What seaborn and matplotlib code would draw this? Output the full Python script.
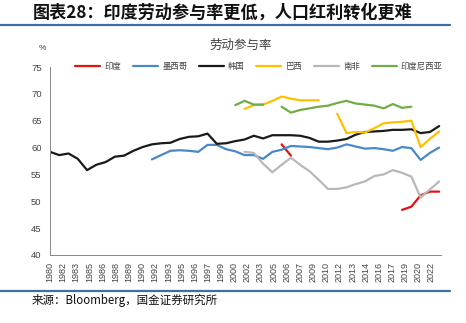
import numpy as np
import pandas as pd
import matplotlib
matplotlib.use("Agg")
import matplotlib.pyplot as plt
import seaborn as sns
from matplotlib.lines import Line2D

# ---------------- data ----------------
countries = ["印度", "墨西哥", "韩国", "巴西", "南非", "印度尼西亚"]
colors = ["#E3120B", "#4A88C7", "#1A1A1A", "#FFC000", "#B8B8B8", "#70AD47"]

korea_years = list(range(1980, 2023))
korea = [59.2, 58.6, 58.9, 57.9, 55.8, 56.8, 57.3, 58.3, 58.5, 59.4,
         60.1, 60.6, 60.8, 60.9, 61.6, 62.0, 62.1, 62.6, 60.7, 60.8,
         61.2, 61.5, 62.2, 61.7, 62.3, 62.3, 62.3, 62.2, 61.8, 61.1,
         61.1, 61.3, 61.6, 62.4, 62.9, 63.0, 63.1, 63.3, 63.3, 63.4,
         62.7, 62.9, 64.0]

mexico_years = list(range(1991, 2023))
mexico = [57.8, 58.6, 59.4, 59.5, 59.4, 59.2, 60.5, 60.5, 59.7, 59.3,
          58.6, 58.6, 57.9, 59.2, 59.6, 60.3, 60.2, 60.1, 59.9, 59.7,
          60.0, 60.6, 60.2, 59.8, 59.9, 59.7, 59.4, 60.1, 59.9, 57.7,
          59.0, 60.0]

brazil1_years = list(range(2001, 2010))
brazil1 = [67.2, 67.9, 68.0, 68.7, 69.5, 69.1, 68.8, 68.8, 68.8]
brazil2_years = list(range(2011, 2023))
brazil2 = [66.3, 62.7, 62.9, 62.8, 63.6, 64.5, 64.7, 64.8, 65.0, 60.1, 61.6, 63.0]

safrica_years = list(range(2001, 2023))
safrica = [59.2, 59.0, 57.0, 55.4, 56.8, 58.1, 56.8, 55.6, 54.0, 52.3,
           52.3, 52.6, 53.2, 53.7, 54.7, 55.0, 55.8, 55.3, 54.6, 50.7,
           52.2, 53.7]

india1_years = [2005, 2006]
india1 = [60.6, 58.5]
india2_years = list(range(2018, 2023))
india2 = [48.4, 49.0, 51.1, 51.8, 51.8]

indo1_years = list(range(2000, 2004))
indo1 = [67.9, 68.7, 68.0, 68.0]
indo2_years = list(range(2005, 2020))
indo2 = [67.6, 66.5, 67.0, 67.3, 67.6, 67.8, 68.3, 68.7, 68.2, 68.0,
         67.8, 67.3, 68.1, 67.4, 67.6]

xtick_labels = ["1980", "1982", "1983", "1985", "1986", "1988", "1989", "1990",
                "1992", "1993", "1995", "1996", "1997", "1999", "2000", "2002",
                "2003", "2005", "2006", "2007", "2009", "2010", "2012", "2013",
                "2014", "2016", "2017", "2019", "2020", "2022"]
yticks = [40, 45, 50, 55, 60, 65, 70, 75]

# ---------------- long table ----------------
segments = [
    ("印度", "in1", india1_years, india1),
    ("印度", "in2", india2_years, india2),
    ("墨西哥", "mx", mexico_years, mexico),
    ("韩国", "kr", korea_years, korea),
    ("巴西", "br1", brazil1_years, brazil1),
    ("巴西", "br2", brazil2_years, brazil2),
    ("南非", "za", safrica_years, safrica),
    ("印度尼西亚", "id1", indo1_years, indo1),
    ("印度尼西亚", "id2", indo2_years, indo2),
]
rows = []
for c, seg, ys, vs in segments:
    for y, v in zip(ys, vs):
        rows.append({"country": c, "seg": seg, "year": y, "value": v})
df = pd.DataFrame(rows)

# ---------------- style ----------------
sns.set_style("white")
plt.rcParams["font.family"] = ["Liberation Sans", "Noto Sans CJK SC", "DejaVu Sans"]

W, H = 466, 323
fig = plt.figure(figsize=(W / 100, H / 100), dpi=100)
ax = fig.add_axes([50 / W, 1 - 255 / H, 391 / W, 188 / H])

palette = dict(zip(countries, colors))
sns.lineplot(data=df, x="year", y="value", hue="country", units="seg",
             estimator=None, palette=palette, hue_order=countries,
             linewidth=1.6, ax=ax, legend=False, sort=True)

ax.set_xlim(1980, 2022.2)
ax.set_ylim(40, 75)
ax.set_yticks(yticks)
ax.set_yticklabels([str(v) for v in yticks], fontsize=6.8, color="#444444")
xpos = 1980 + 1.42 * np.arange(len(xtick_labels))
ax.set_xticks(xpos)
ax.set_xticklabels(xtick_labels, rotation=90, fontsize=6.5, color="#444444")
ax.set_xlabel("")
ax.set_ylabel("")
ax.tick_params(axis="both", which="both", direction="out", length=3, width=0.6,
               color="#888888", pad=2)
ax.tick_params(axis="y", pad=3)
for s in ["top", "right"]:
    ax.spines[s].set_visible(False)
for s in ["left", "bottom"]:
    ax.spines[s].set_color("#888888")
    ax.spines[s].set_linewidth(0.7)
ax.grid(False)

# legend
handles = [Line2D([0], [0], color=c, lw=1.6) for c in colors]
fig.legend(handles, countries, ncol=6, loc="center",
           bbox_to_anchor=(259 / W, 1 - 67 / H), frameon=False,
           fontsize=6, handlelength=3.0, handletextpad=0.5,
           columnspacing=1.4, labelcolor="#444444")

# texts
fig.text(33 / W, 1 - 13 / H, "图表28：印度劳动参与率更低，人口红利转化更难",
         fontsize=12.3, fontweight="bold", style="italic", ha="left", va="center",
         family=["Noto Sans CJK SC", "DejaVu Sans"], color="#111111")
fig.text(241 / W, 1 - 45 / H, "劳动参与率", fontsize=9, ha="center", va="center",
         family=["Noto Sans CJK SC", "DejaVu Sans"], color="#444444")
fig.text(42 / W, 1 - 48 / H, "%", fontsize=6, ha="center", va="center",
         color="#444444")
fig.text(32 / W, 1 - 300 / H, "来源：Bloomberg，国金证券研究所", fontsize=8.3,
         ha="left", va="center", family=["Noto Sans CJK SC", "DejaVu Sans"],
         color="#111111")

# rules
fig.add_artist(Line2D([0, 450 / W], [1 - 25 / H, 1 - 25 / H], color="#3B6FA6",
                      lw=1.6, transform=fig.transFigure))
fig.add_artist(Line2D([0, 450 / W], [1 - 291 / H, 1 - 291 / H], color="#3B6FA6",
                      lw=1.6, transform=fig.transFigure))

fig.savefig("out.png", dpi=100)
